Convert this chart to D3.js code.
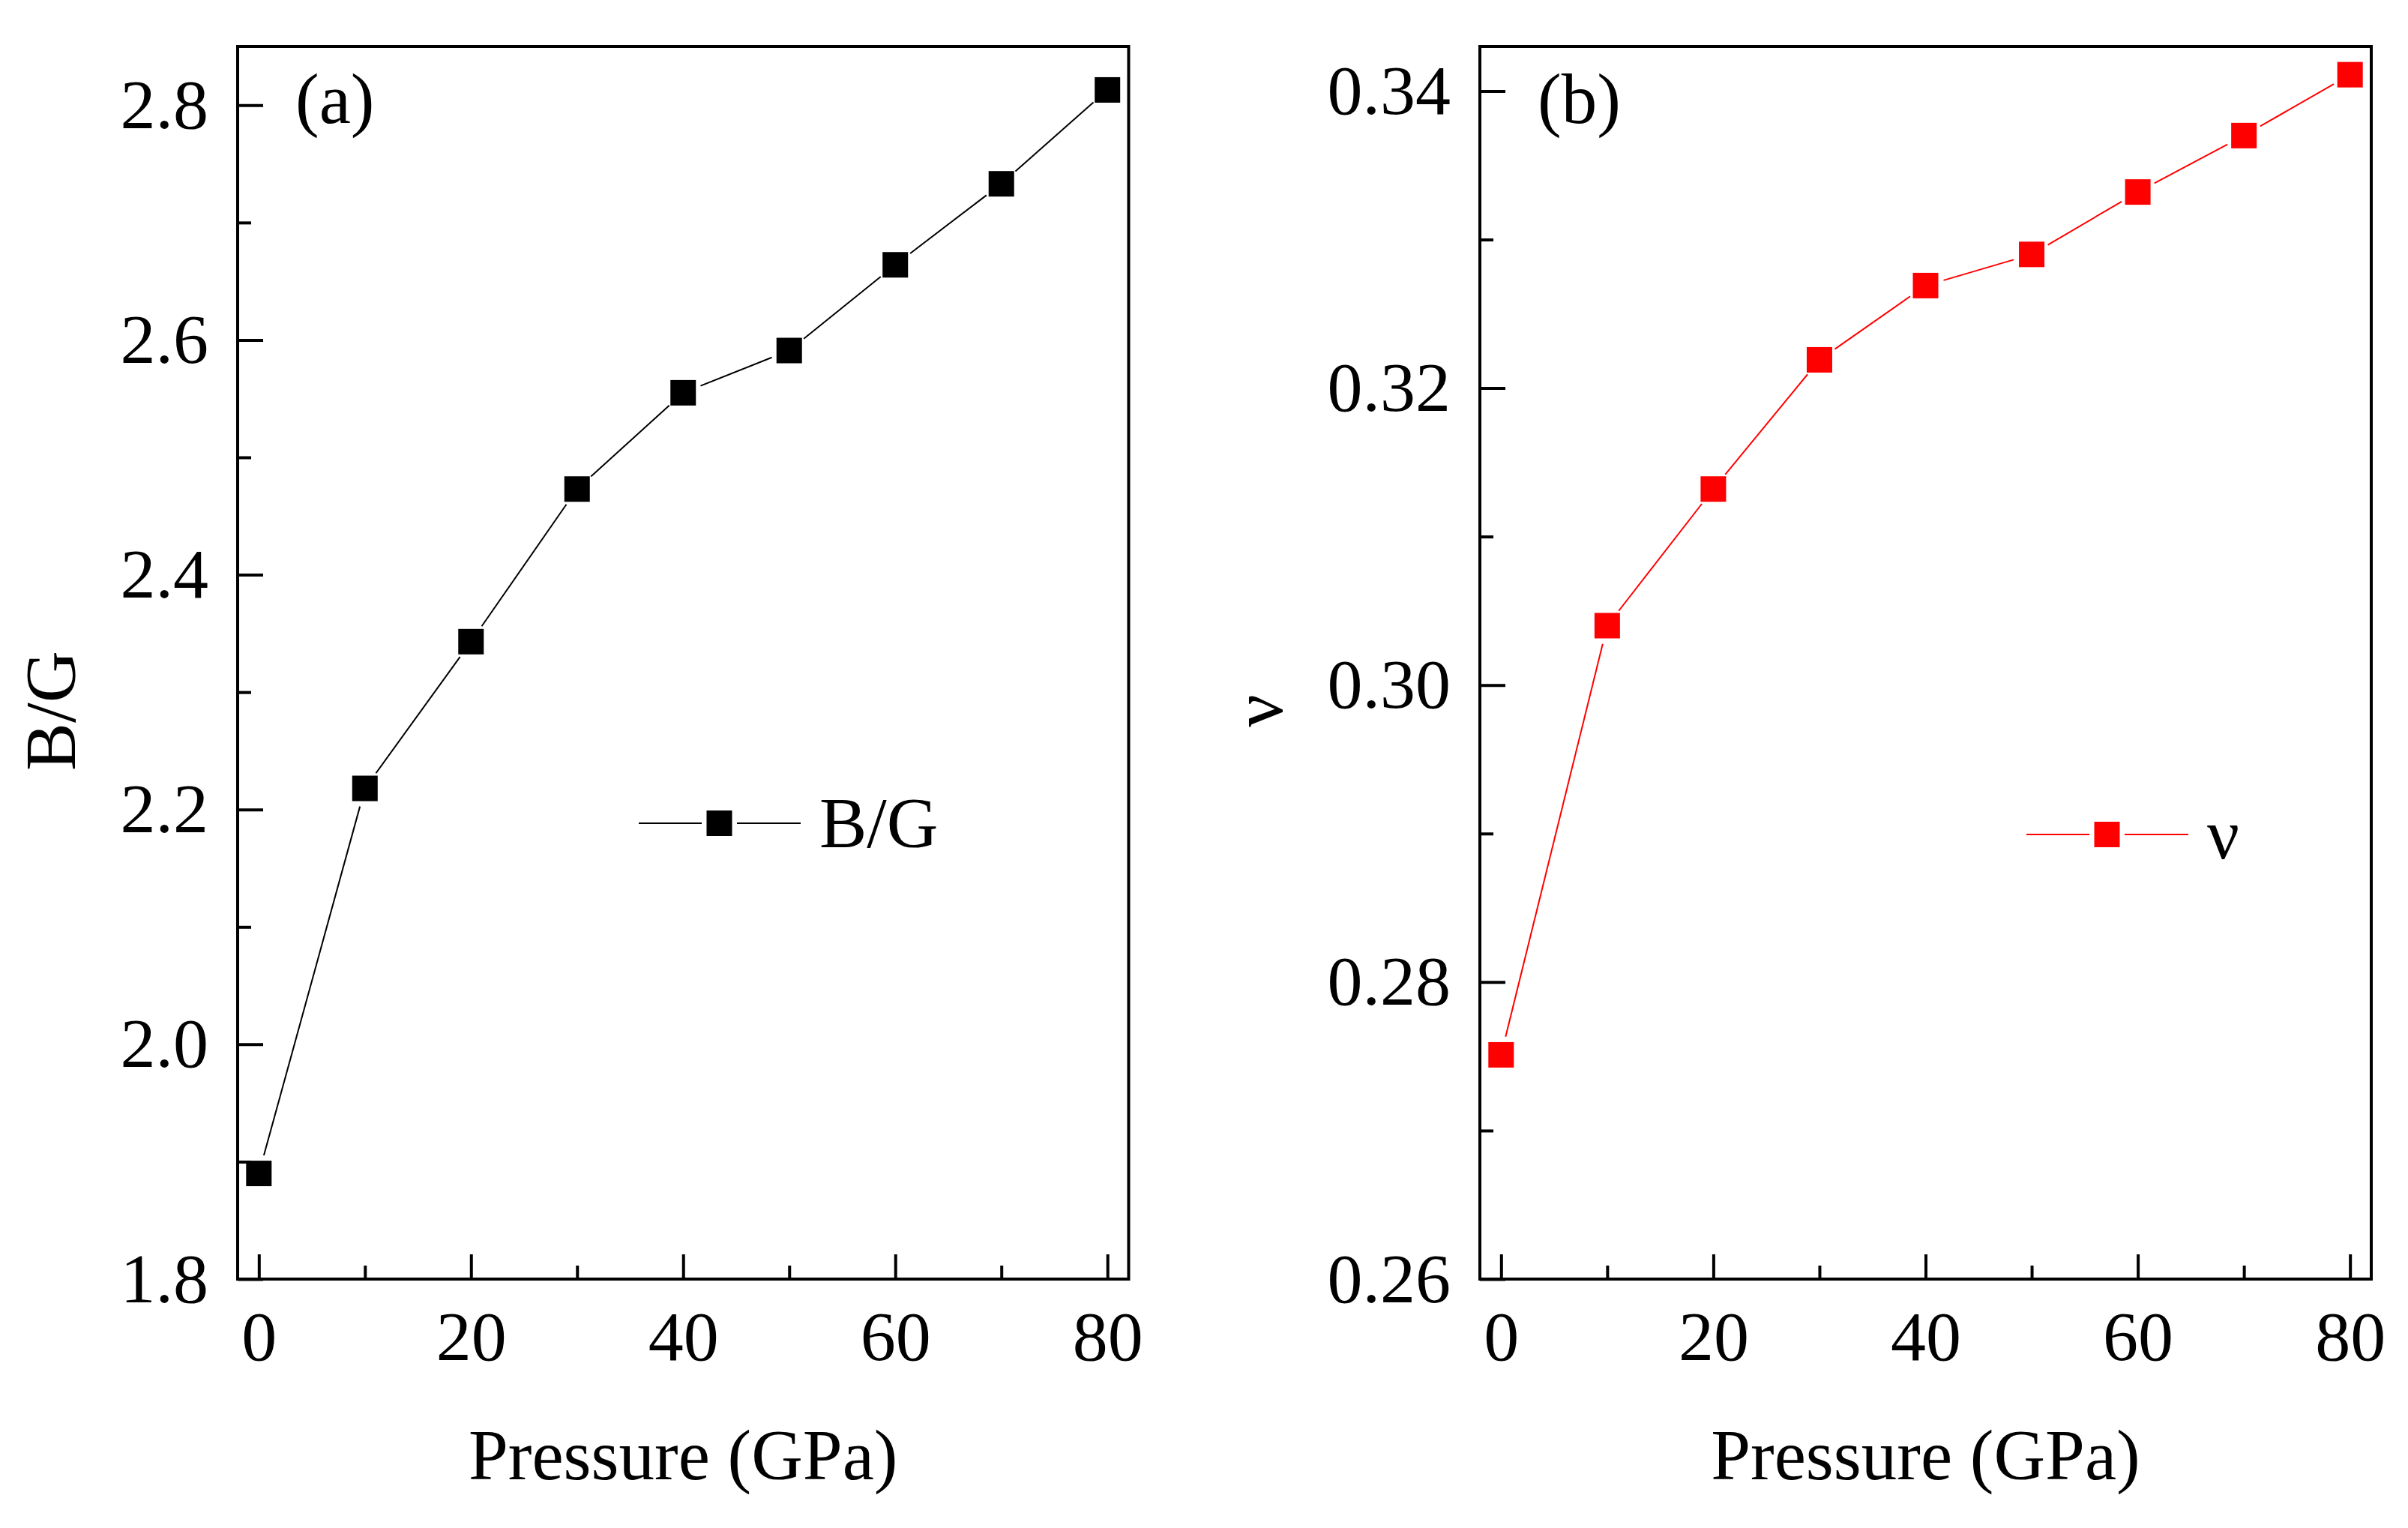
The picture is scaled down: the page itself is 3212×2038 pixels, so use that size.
<!DOCTYPE html>
<html>
<head>
<meta charset="utf-8">
<script src="https://cdn.jsdelivr.net/npm/d3@7/dist/d3.min.js"></script>
<style>
  html, body { margin: 0; padding: 0; background: #fff; }
  svg { display: block; }
</style>
</head>
<body>
<svg id="chart" width="3212" height="2038"></svg>
<script>
// ---- data ----
const pressure = [0, 10, 20, 30, 40, 50, 60, 70, 80];
const bgValues = [1.890, 2.218, 2.343, 2.473, 2.555, 2.591, 2.664, 2.733, 2.813];
const nuValues = [0.2751, 0.3040, 0.3132, 0.3219, 0.3269, 0.3290, 0.3332, 0.3370, 0.3411];
const xMajorTicks = [0, 20, 40, 60, 80];
const xMinorTicks = [10, 30, 50, 70];
const bgMajorTicks = [1.8, 2.0, 2.2, 2.4, 2.6, 2.8];
const bgMinorTicks = [1.9, 2.1, 2.3, 2.5, 2.7];
const nuMajorTicks = [0.26, 0.28, 0.30, 0.32, 0.34];
const nuMinorTicks = [0.27, 0.29, 0.31, 0.33];

const FONT = "'Liberation Serif', 'Times New Roman', Times, serif";
const svg = d3.select("#chart");
svg.append("rect").attr("width", 3212).attr("height", 2038).attr("fill", "#fff");

function panel(cfg) {
  const x = d3.scaleLinear().domain([-2, 82]).range([cfg.left, cfg.right]);
  const y = d3.scaleLinear().domain(cfg.yDomain).range([cfg.bottom, cfg.top]);
  const g = svg.append("g");

  function styleAxis(sel) {
    sel.select(".domain").remove();
    sel.selectAll(".tick line").attr("stroke", "#000").attr("stroke-width", 4);
    sel.selectAll(".tick text")
      .attr("fill", "#000")
      .style("font-family", FONT)
      .style("font-size", "94px");
  }

  // x axis major
  g.append("g").attr("transform", `translate(0,${cfg.bottom})`)
    .call(d3.axisBottom(x).tickValues(xMajorTicks).tickSize(-33).tickPadding(41).tickFormat(d3.format("d")))
    .call(styleAxis);
  // x axis minor
  g.append("g").attr("transform", `translate(0,${cfg.bottom})`)
    .call(d3.axisBottom(x).tickValues(xMinorTicks).tickSize(-18).tickFormat(""))
    .call(styleAxis);
  // y axis major
  g.append("g").attr("transform", `translate(${cfg.left},0)`)
    .call(d3.axisLeft(y).tickValues(cfg.yMajor).tickSize(-34).tickPadding(39).tickFormat(d3.format(cfg.fmt)))
    .call(styleAxis);
  // y axis minor
  g.append("g").attr("transform", `translate(${cfg.left},0)`)
    .call(d3.axisLeft(y).tickValues(cfg.yMinor).tickSize(-18).tickFormat(""))
    .call(styleAxis);

  // frame
  g.append("rect")
    .attr("x", cfg.left).attr("y", cfg.top)
    .attr("width", cfg.right - cfg.left).attr("height", cfg.bottom - cfg.top)
    .attr("fill", "none").attr("stroke", "#000").attr("stroke-width", 4);

  // data line with gaps around markers
  const pts = pressure.map((p, i) => [x(p), y(cfg.values[i])]);
  const gap = 25;
  const segs = d3.pairs(pts).map(([a, b]) => {
    const dx = b[0] - a[0], dy = b[1] - a[1];
    const L = Math.hypot(dx, dy);
    const ux = dx / L, uy = dy / L;
    return [[a[0] + ux * gap, a[1] + uy * gap], [b[0] - ux * gap, b[1] - uy * gap]];
  });
  g.selectAll("line.seg").data(segs).join("line")
    .attr("class", "seg")
    .attr("x1", d => d[0][0]).attr("y1", d => d[0][1])
    .attr("x2", d => d[1][0]).attr("y2", d => d[1][1])
    .attr("stroke", cfg.color).attr("stroke-width", 2);

  const ms = 34;
  g.selectAll("rect.mk").data(pressure).join("rect")
    .attr("class", "mk")
    .attr("x", (d) => x(d) - ms / 2)
    .attr("y", (d, i) => y(cfg.values[i]) - ms / 2)
    .attr("width", ms).attr("height", ms)
    .attr("fill", cfg.color);

  // axis titles
  g.append("text")
    .attr("x", (cfg.left + cfg.right) / 2).attr("y", 1973)
    .attr("text-anchor", "middle")
    .style("font-family", FONT).style("font-size", "95px")
    .text("Pressure (GPa)");
  g.append("text")
    .attr("transform", `translate(${cfg.yTitleX},948) rotate(-90)`)
    .attr("text-anchor", "middle")
    .style("font-family", FONT).style("font-size", "96px")
    .text(cfg.yTitle);

  // panel label
  g.append("text")
    .attr("x", cfg.left + 77).attr("y", 164)
    .style("font-family", FONT).style("font-size", "95px")
    .text(cfg.label);

  // legend
  const lx = cfg.legendX, ly = cfg.legendY;
  g.append("line").attr("x1", lx).attr("x2", lx + 84).attr("y1", ly).attr("y2", ly)
    .attr("stroke", cfg.color).attr("stroke-width", 2);
  g.append("line").attr("x1", lx + 131).attr("x2", lx + 216).attr("y1", ly).attr("y2", ly)
    .attr("stroke", cfg.color).attr("stroke-width", 2);
  g.append("rect").attr("x", lx + 107.5 - ms / 2).attr("y", ly - ms / 2)
    .attr("width", ms).attr("height", ms).attr("fill", cfg.color);
  g.append("text")
    .attr("x", lx + 241).attr("y", ly + 32)
    .style("font-family", FONT).style("font-size", "95px")
    .text(cfg.legendText);
}

panel({
  left: 317, right: 1505.5, top: 62, bottom: 1706,
  yDomain: [1.8, 2.85], yMajor: bgMajorTicks, yMinor: bgMinorTicks, fmt: ".1f",
  values: bgValues, color: "#000000",
  yTitle: "B/G", yTitleX: 100, label: "(a)",
  legendX: 852, legendY: 1098, legendText: "B/G"
});

panel({
  left: 1974, right: 3163, top: 62, bottom: 1706,
  yDomain: [0.26, 0.343], yMajor: nuMajorTicks, yMinor: nuMinorTicks, fmt: ".2f",
  values: nuValues, color: "#ff0000",
  yTitle: "ν", yTitleX: 1710, label: "(b)",
  legendX: 2703, legendY: 1113, legendText: "ν"
});
</script>
</body>
</html>
